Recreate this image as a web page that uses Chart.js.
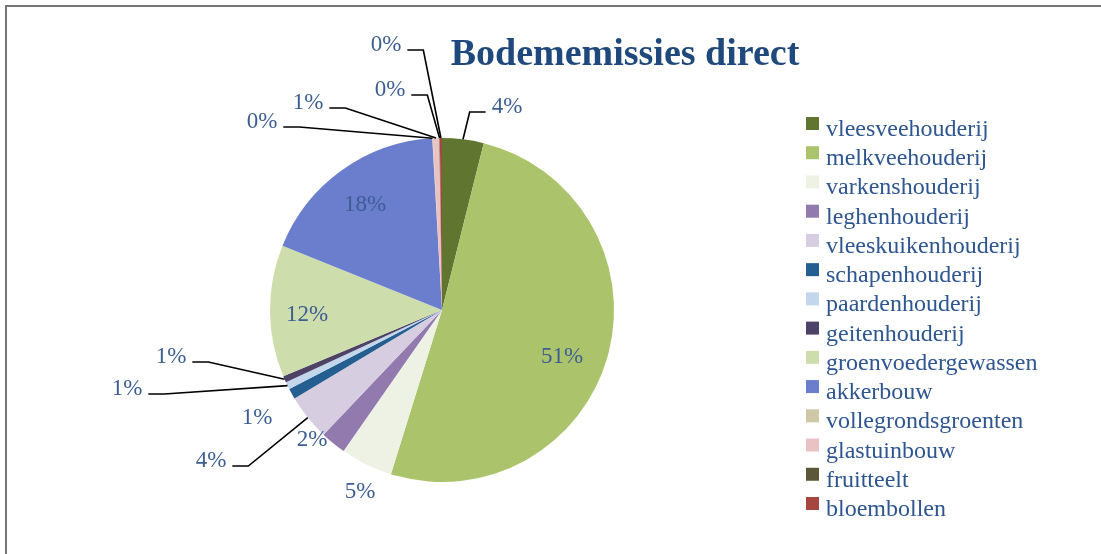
<!DOCTYPE html>
<html>
<head>
<meta charset="utf-8">
<script src="https://cdn.jsdelivr.net/npm/chart.js@4.4.1/dist/chart.umd.min.js"></script>
<style>
  html, body { margin: 0; padding: 0; background: #ffffff; }
  #wrap { position: relative; width: 1101px; height: 554px; overflow: hidden; }
  #frame { position: absolute; left: 5px; top: 5px; width: 1100px; height: 560px;
           border-top: 2px solid #767676; border-left: 2px solid #767676; box-sizing: border-box; }
  canvas { position: absolute; left: 0; top: 0; }
</style>
</head>
<body>
<div id="wrap">
  <div id="frame"></div>
  <canvas id="c" width="1101" height="554"></canvas>
</div>
<script>
// ---- data ----
const chartTitle = 'Bodememissies direct';
const categories = [
  'vleesveehouderij', 'melkveehouderij', 'varkenshouderij', 'leghenhouderij',
  'vleeskuikenhouderij', 'schapenhouderij', 'paardenhouderij', 'geitenhouderij',
  'groenvoedergewassen', 'akkerbouw', 'vollegrondsgroenten', 'glastuinbouw',
  'fruitteelt', 'bloembollen'
];
const shares = [3.9, 50.9, 4.9, 2.4, 4.3, 1.0, 0.7, 0.6, 12.4, 18.0, 0.05, 0.6, 0.05, 0.2];

// ---- styles ----
const sliceColors = [
  '#5F7530', '#ABC46B', '#EEF2E4', '#9279AE', '#D6CDE0', '#255E91', '#C3D6EC',
  '#4F4267', '#CDDDAC', '#6B7DCD', '#CEC8A6', '#E9C3C3', '#5C5738', '#A6463E'
];
// label placement relative to pie centre (pixels at a 172px radius)
// lead: side of the text the leader line leaves from (null = no leader line)
const R0 = 172;
const labelPlacement = [
  { dx: 65, dy: -203, lead: 'left' },
  { dx: 120, dy: 47, lead: null },
  { dx: -82, dy: 182, lead: null },
  { dx: -130, dy: 130, lead: null },
  { dx: -231, dy: 151, lead: 'right' },
  { dx: -185, dy: 108, lead: null },
  { dx: -315, dy: 79, lead: 'right' },
  { dx: -271, dy: 47, lead: 'right' },
  { dx: -135, dy: 5, lead: null },
  { dx: -77, dy: -105, lead: null },
  { dx: -180, dy: -188, lead: 'right' },
  { dx: -134, dy: -207, lead: 'right' },
  { dx: -52, dy: -220, lead: 'right' },
  { dx: -56, dy: -265, lead: 'right' }
];

const serif = '"Liberation Serif", "Times New Roman", serif';
const labelColor = '#3D5E93';
const legendColor = '#2D5590';
const titleColor = '#1F497D';

const total = shares.reduce((a, b) => a + b, 0);

const labelPlugin = {
  id: 'pctLabels',
  afterDatasetsDraw(chart) {
    const ctx = chart.ctx;
    const meta = chart.getDatasetMeta(0);
    ctx.save();
    ctx.font = '23px ' + serif;
    ctx.textAlign = 'center';
    ctx.textBaseline = 'middle';
    meta.data.forEach((arc, i) => {
      const p = arc.getProps(['x', 'y', 'startAngle', 'endAngle', 'outerRadius'], true);
      const k = p.outerRadius / R0;
      const pl = labelPlacement[i];
      const tx = p.x + pl.dx * k;
      const ty = p.y + pl.dy * k;
      const txt = Math.round(shares[i] / total * 100) + '%';
      if (pl.lead) {
        const mid = (p.startAngle + p.endAngle) / 2;
        const ex = p.x + Math.cos(mid) * p.outerRadius;
        const ey = p.y + Math.sin(mid) * p.outerRadius;
        const w = ctx.measureText(txt).width;
        const sgn = pl.lead === 'right' ? 1 : -1;
        const x0 = tx + sgn * (w / 2 + 6);
        const x1 = x0 + sgn * 16;
        const ly = ty + 5;
        ctx.beginPath();
        ctx.strokeStyle = '#000000';
        ctx.lineWidth = 1.6;
        ctx.moveTo(x0, ly);
        ctx.lineTo(x1, ly);
        ctx.lineTo(ex, ey);
        ctx.stroke();
      }
      ctx.fillStyle = labelColor;
      ctx.fillText(txt, tx, ty);
    });
    ctx.restore();
  }
};

const titleLegendPlugin = {
  id: 'titleLegend',
  afterDraw(chart) {
    const ctx = chart.ctx;
    ctx.save();
    ctx.fillStyle = titleColor;
    ctx.font = 'bold 38px ' + serif;
    ctx.textAlign = 'center';
    ctx.textBaseline = 'alphabetic';
    ctx.fillText(chartTitle, 625, 65);

    const lx = 806, ly0 = 117, step = 29.23, box = 13;
    ctx.font = '24px ' + serif;
    ctx.textAlign = 'left';
    chart.data.labels.forEach((lab, i) => {
      const y = ly0 + i * step;
      ctx.fillStyle = chart.data.datasets[0].backgroundColor[i];
      ctx.fillRect(lx, y, box, box);
      ctx.fillStyle = legendColor;
      ctx.fillText(lab, lx + 20, y + 19);
    });
    ctx.restore();
  }
};

new Chart(document.getElementById('c'), {
  type: 'pie',
  data: {
    labels: categories,
    datasets: [{
      data: shares,
      backgroundColor: sliceColors,
      borderWidth: 0,
      hoverOffset: 0
    }]
  },
  options: {
    responsive: false,
    devicePixelRatio: 1,
    animation: false,
    layout: { padding: { left: 270, right: 487, top: 138, bottom: 72 } },
    plugins: {
      legend: { display: false },
      title: { display: false },
      tooltip: { enabled: false }
    }
  },
  plugins: [labelPlugin, titleLegendPlugin]
});
</script>
</body>
</html>
